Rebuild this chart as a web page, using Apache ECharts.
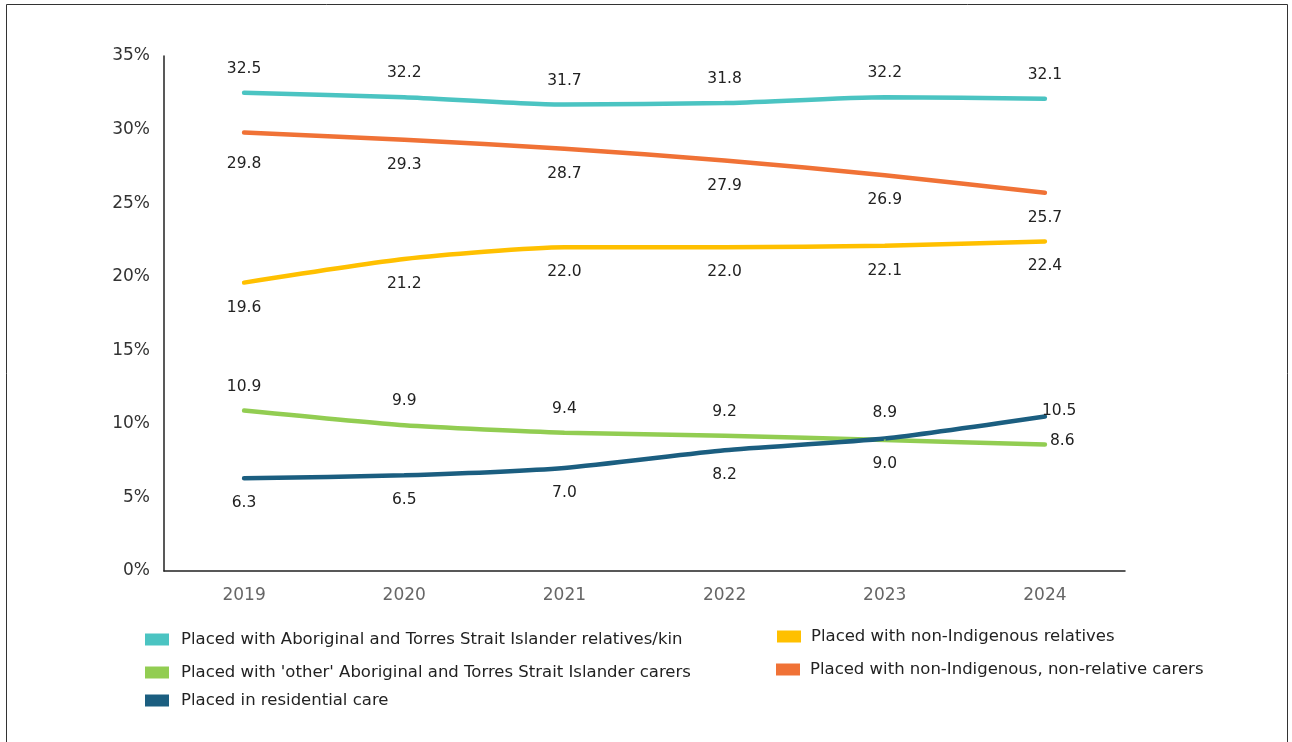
<!DOCTYPE html>
<html><head><meta charset="utf-8">
<script src="https://cdn.jsdelivr.net/npm/echarts@6/dist/echarts.min.js"></script>
<style>html,body{margin:0;padding:0;background:#fff}#c{width:1292px;height:742px}</style>
</head><body><div id="c"></div>
<script>
const years = ['2019','2020','2021','2022','2023','2024'];
const yTicks = [0,5,10,15,20,25,30,35];
const kinName = 'Placed with Aboriginal and Torres Strait Islander relatives/kin';
const otherName = "Placed with 'other' Aboriginal and Torres Strait Islander carers";
const resName = 'Placed in residential care';
const nonIndRelName = 'Placed with non-Indigenous relatives';
const nonIndNonRelName = 'Placed with non-Indigenous, non-relative carers';
const kin = [32.5,32.2,31.7,31.8,32.2,32.1];
const nonIndNonRel = [29.8,29.3,28.7,27.9,26.9,25.7];
const nonIndRel = [19.6,21.2,22.0,22.0,22.1,22.4];
const other = [10.9,9.9,9.4,9.2,8.9,8.6];
const residential = [6.3,6.5,7.0,8.2,9.0,10.5];

const colors = {kin:'#4BC4C2', nonNon:'#F07236', nonRel:'#FFC000', other:'#92CD52', res:'#1B5E80'};
const font = '"DejaVu Sans", sans-serif';

function mk(name, data, color, pos, dist, special) {
  return {
    name, type:'line', data: data.map((v,i)=> special && special[i] ? {value:v, label:special[i]} : v),
    smooth:0.2, symbol:'circle', symbolSize:2, showSymbol:true,
    lineStyle:{width:4.5, color, cap:'round'}, itemStyle:{color, borderWidth:0},
    label:{show:true, position:pos, distance:dist, color:'#222', fontSize:15.5, fontFamily:font,
      formatter:p=>Number(p.value).toFixed(1)},
    emphasis:{disabled:true}
  };
}
const chart = echarts.init(document.getElementById('c'));
function leg(name, left, top, gap){
  return {show:true, data:[{name}], left, top, padding:0, icon:'rect', itemWidth:24, itemHeight:12, itemGap:10,
    textStyle:{color:'#222', fontSize:16.5, fontFamily:font, padding:[0,0,0,gap-5]}, selectedMode:false};
}
chart.setOption({
  animation:false,
  graphic:[{type:'rect', shape:{x:6.5,y:4.5,width:1281,height:800}, style:{fill:'none', stroke:'#333', lineWidth:1}, silent:true}],
  grid:{left:164, right:167, top:56, bottom:171, containLabel:false},
  legend:[leg(kinName,145,631,12), leg(otherName,145,664,12), leg(resName,145,692,12), leg(nonIndRelName,777,628,10), leg(nonIndNonRelName,776,661,10)],
  xAxis:{type:'category', data:years, boundaryGap:true,
    axisLine:{lineStyle:{color:'#222', width:1.5}}, axisTick:{show:false},
    axisLabel:{color:'#666', fontSize:17, fontFamily:font, margin:16}},
  yAxis:{type:'value', min:0, max:35, interval:5,
    axisLine:{show:true, lineStyle:{color:'#222', width:1.5}}, axisTick:{show:false}, splitLine:{show:false},
    axisLabel:{color:'#333', fontSize:17, fontFamily:font, margin:14, formatter:'{value}%'}},
  series:[
    mk(kinName, kin, colors.kin, 'top', 15),
    mk(otherName, other, colors.other, 'top', 15, [null,null,null,null,{position:'top',distance:18},{position:'right',distance:4,offset:[0,-3]}]),
    mk(resName, residential, colors.res, 'bottom', 16, [null,null,null,null,null,{position:'right',distance:-4,offset:[0,-6]}]),
    mk(nonIndRelName, nonIndRel, colors.nonRel, 'bottom', 16),
    mk(nonIndNonRelName, nonIndNonRel, colors.nonNon, 'bottom', 16, [{position:'bottom',distance:22}])
  ]
});
</script></body></html>
